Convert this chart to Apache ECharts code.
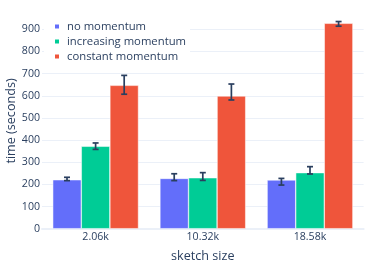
<!DOCTYPE html>
<html>
<head>
<meta charset="utf-8">
<script src="https://cdn.jsdelivr.net/npm/echarts@6/dist/echarts.min.js"></script>
<style>html,body{margin:0;padding:0;background:#fff}#c{width:374px;height:267px}</style>
</head>
<body>
<div id="c"></div>
<script>
const categories = ['2.06k', '10.32k', '18.58k'];
const seriesNames = ['no momentum', 'increasing momentum', 'constant momentum'];
const noMomentum = [221, 227, 220];
const noMomentumLow = [217, 217, 197];
const noMomentumHigh = [232, 248, 227];
const increasingMomentum = [372, 230, 253];
const increasingMomentumLow = [358, 218, 247];
const increasingMomentumHigh = [387, 253, 280];
const constantMomentum = [647, 599, 927];
const constantMomentumLow = [607, 581, 914];
const constantMomentumHigh = [692, 653, 935];
const yTicks = [0, 100, 200, 300, 400, 500, 600, 700, 800, 900];

const colors = ['#636efa', '#00cc96', '#EF553B'];
const values = [noMomentum, increasingMomentum, constantMomentum];
const lows = [noMomentumLow, increasingMomentumLow, constantMomentumLow];
const highs = [noMomentumHigh, increasingMomentumHigh, constantMomentumHigh];
const font = 'Open Sans';
const txt = '#2a3f5f';

const chart = echarts.init(document.getElementById('c'), null, {renderer: 'canvas'});

const series = [];
values.forEach((v, s) => {
  series.push({
    name: seriesNames[s], type: 'bar', data: v, clip: false,
    barGap: '0%', barCategoryGap: '20%',
    itemStyle: {color: colors[s], borderColor: '#ffffff', borderWidth: 0.5},
    emphasis: {disabled: true}
  });
});
values.forEach((v, s) => {
  series.push({
    type: 'custom', clip: false, z: 5,
    data: categories.map((c, i) => [i, lows[s][i], highs[s][i]]),
    encode: {x: 0, y: [1, 2]},
    renderItem: function (params, api) {
      const i = api.value(0);
      const lo = api.coord([i, api.value(1)]);
      const hi = api.coord([i, api.value(2)]);
      const band = api.size([1, 0])[0];
      const bw = band * 0.8 / 3;
      const x = lo[0] + (s - 1) * bw;
      const hw = 3;
      const st = {stroke: txt, lineWidth: 1.7, fill: null};
      return {type: 'group', children: [
        {type: 'line', shape: {x1: x, y1: lo[1], x2: x, y2: hi[1]}, style: st},
        {type: 'line', shape: {x1: x - hw, y1: lo[1], x2: x + hw, y2: lo[1]}, style: st},
        {type: 'line', shape: {x1: x - hw, y1: hi[1], x2: x + hw, y2: hi[1]}, style: st}
      ]};
    }
  });
});

chart.setOption({
  animation: false,
  backgroundColor: '#ffffff',
  grid: {left: 42, right: 10.4, top: 29.3, bottom: 38.3, containLabel: false, outerBoundsMode: 'none'},
  legend: {
    data: seriesNames, orient: 'vertical', left: 44, top: 16.5,
    padding: [4, 4, 4, 9], backgroundColor: '#ffffff',
    itemWidth: 6, itemHeight: 6, itemGap: 3, icon: 'rect',
    textStyle: {fontFamily: font, fontSize: 11.3, color: txt, lineHeight: 12, padding: [0, 0, 0, 2]},
    selectedMode: false
  },
  xAxis: {
    type: 'category', data: categories,
    axisLine: {show: true, lineStyle: {color: '#EBF0F8', width: 2}},
    axisTick: {show: false},
    axisLabel: {fontFamily: font, fontSize: 10.6, color: txt, margin: 3}
  },
  yAxis: {
    type: 'value', min: 0, max: 900, interval: 100,
    axisLine: {show: false}, axisTick: {show: false},
    splitLine: {lineStyle: {color: '#EBF0F8', width: 1}},
    axisLabel: {fontFamily: font, fontSize: 10.6, color: txt, margin: 2,
      formatter: v => yTicks.includes(v) ? String(v) : ''}
  },
  graphic: [
    {type: 'text', x: 202.8, y: 256, style: {text: 'sketch size', fontFamily: font, fontSize: 12.6, fill: txt, textAlign: 'center', textVerticalAlign: 'middle'}},
    {type: 'text', rotation: Math.PI / 2, x: 11, y: 121, style: {text: 'time (seconds)', fontFamily: font, fontSize: 12.6, fill: txt, textAlign: 'center', textVerticalAlign: 'middle'}}
  ],
  series: series
});
</script>
</body>
</html>
